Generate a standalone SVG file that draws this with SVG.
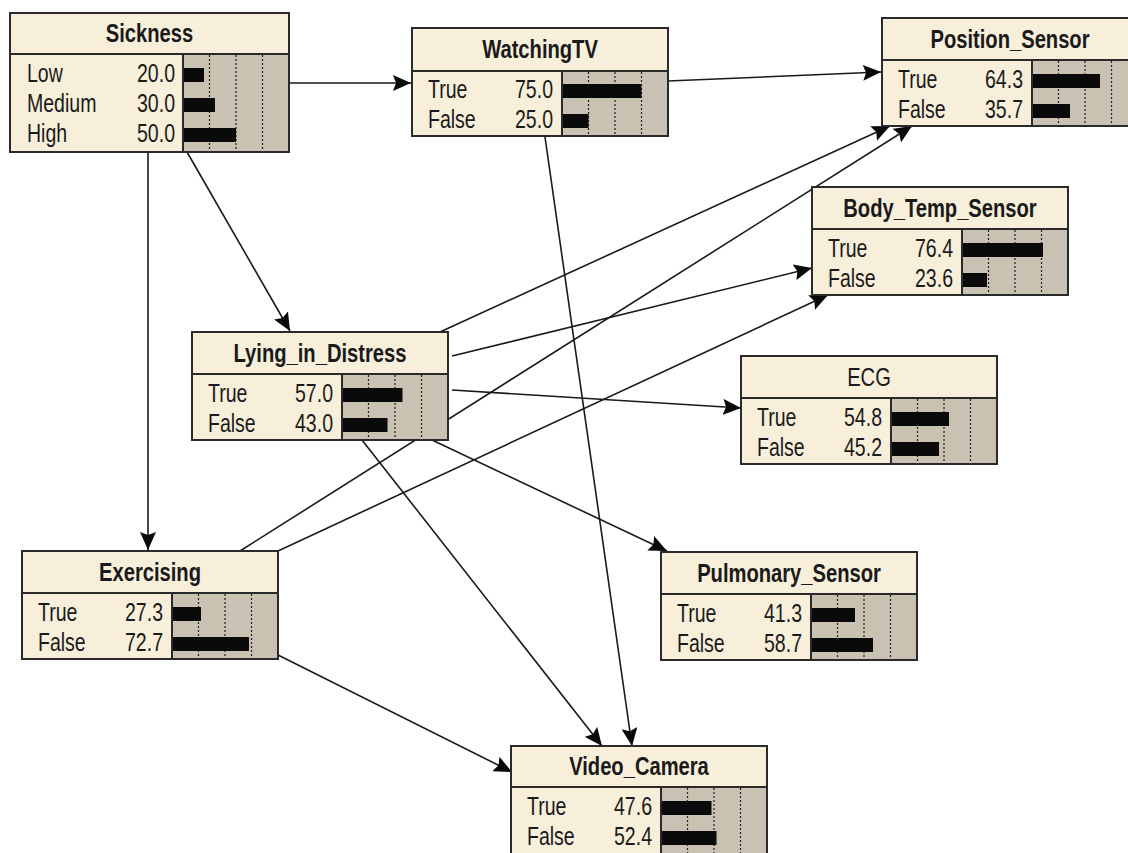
<svg xmlns="http://www.w3.org/2000/svg" width="1128" height="853" viewBox="0 0 1128 853">
<style>
.box{fill:#f7efda;stroke:#2a2a2a;stroke-width:2}
.sep{stroke:#2a2a2a;stroke-width:2}
.bararea{fill:#c9c1b2}
.dot{stroke:#222;stroke-width:1.2;stroke-dasharray:2,2}
.bar{fill:#0a0a0a}
.title{font-family:"Liberation Sans",Arial,sans-serif;font-weight:bold;font-size:21px;fill:#1a1a1a;text-anchor:middle}
.lbl{font-family:"Liberation Sans",Arial,sans-serif;font-size:21px;fill:#1a1a1a}
.val{font-family:"Liberation Sans",Arial,sans-serif;font-size:21px;fill:#1a1a1a;text-anchor:end}
.edge{stroke:#1a1a1a;stroke-width:1.6;fill:none;marker-end:url(#arr)}
</style>
<defs>
<marker id="arr" viewBox="0 0 18 16" refX="18" refY="8" markerWidth="18" markerHeight="16" markerUnits="userSpaceOnUse" orient="auto">
<path d="M0,0 L18,8 L0,16 L3,8 z" fill="#0a0a0a"/>
</marker>
</defs>
<rect width="1128" height="853" fill="#ffffff"/>

<g id="connectors">
<line class="edge" x1="290" y1="83" x2="411" y2="83"/>
<line class="edge" x1="668" y1="81" x2="881" y2="72"/>
<line class="edge" x1="187" y1="152" x2="290" y2="331"/>
<line class="edge" x1="148" y1="152" x2="148" y2="550"/>
<line class="edge" x1="545" y1="137" x2="632" y2="746"/>
<line class="edge" x1="440" y1="332" x2="890" y2="126"/>
<line class="edge" x1="452" y1="356" x2="812" y2="268"/>
<line class="edge" x1="452" y1="390" x2="741" y2="408"/>
<line class="edge" x1="432" y1="440" x2="667" y2="551"/>
<line class="edge" x1="362" y1="440" x2="602" y2="746"/>
<line class="edge" x1="240" y1="551" x2="912" y2="126"/>
<line class="edge" x1="278" y1="551" x2="828" y2="295"/>
<line class="edge" x1="278" y1="655" x2="512" y2="772"/>
</g>

<g id="Sickness" transform="translate(10,13)">
<rect class="box" x="0" y="0" width="279" height="139"/>
<rect class="bararea" x="173" y="41" width="106" height="98"/>
<line class="dot" x1="199.5" y1="42" x2="199.5" y2="138"/>
<line class="dot" x1="226" y1="42" x2="226" y2="138"/>
<line class="dot" x1="252.5" y1="42" x2="252.5" y2="138"/>
<rect class="bar" x="173" y="55" width="21" height="14"/>
<rect class="bar" x="173" y="85" width="32" height="14"/>
<rect class="bar" x="173" y="115" width="53" height="14"/>
<rect x="0" y="0" width="279" height="139" fill="none" stroke="#2a2a2a" stroke-width="2"/>
<line class="sep" x1="0" y1="41" x2="279" y2="41"/>
<line class="sep" x1="173" y1="41" x2="173" y2="139"/>
<text class="title" transform="translate(139.5,29) scale(0.96,1.22)">Sickness</text>
<text class="lbl" transform="translate(17,69) scale(0.93,1.2)">Low</text>
<text class="val" transform="translate(165,69) scale(0.93,1.2)">20.0</text>
<text class="lbl" transform="translate(17,99) scale(0.93,1.2)">Medium</text>
<text class="val" transform="translate(165,99) scale(0.93,1.2)">30.0</text>
<text class="lbl" transform="translate(17,129) scale(0.93,1.2)">High</text>
<text class="val" transform="translate(165,129) scale(0.93,1.2)">50.0</text>
</g>

<g id="WatchingTV" transform="translate(412,28)">
<rect class="box" x="0" y="0" width="256" height="108"/>
<rect class="bararea" x="150" y="43" width="106" height="65"/>
<line class="dot" x1="176.5" y1="44" x2="176.5" y2="107"/>
<line class="dot" x1="203" y1="44" x2="203" y2="107"/>
<line class="dot" x1="229.5" y1="44" x2="229.5" y2="107"/>
<rect class="bar" x="150" y="56" width="79.5" height="14"/>
<rect class="bar" x="150" y="86" width="26.5" height="14"/>
<rect x="0" y="0" width="256" height="108" fill="none" stroke="#2a2a2a" stroke-width="2"/>
<line class="sep" x1="0" y1="43" x2="256" y2="43"/>
<line class="sep" x1="150" y1="43" x2="150" y2="108"/>
<text class="title" transform="translate(128,30) scale(0.96,1.22)">WatchingTV</text>
<text class="lbl" transform="translate(16,70) scale(0.93,1.2)">True</text>
<text class="val" transform="translate(141,70) scale(0.93,1.2)">75.0</text>
<text class="lbl" transform="translate(16,100) scale(0.93,1.2)">False</text>
<text class="val" transform="translate(141,100) scale(0.93,1.2)">25.0</text>
</g>

<g id="Position_Sensor" transform="translate(882,18)">
<rect class="box" x="0" y="0" width="256" height="108"/>
<rect class="bararea" x="150" y="42" width="106" height="66"/>
<line class="dot" x1="176.5" y1="43" x2="176.5" y2="107"/>
<line class="dot" x1="203" y1="43" x2="203" y2="107"/>
<line class="dot" x1="229.5" y1="43" x2="229.5" y2="107"/>
<rect class="bar" x="150" y="56" width="68" height="14"/>
<rect class="bar" x="150" y="86" width="38" height="14"/>
<rect x="0" y="0" width="256" height="108" fill="none" stroke="#2a2a2a" stroke-width="2"/>
<line class="sep" x1="0" y1="42" x2="256" y2="42"/>
<line class="sep" x1="150" y1="42" x2="150" y2="108"/>
<text class="title" transform="translate(128,30) scale(0.96,1.22)">Position_Sensor</text>
<text class="lbl" transform="translate(16,70) scale(0.93,1.2)">True</text>
<text class="val" transform="translate(141,70) scale(0.93,1.2)">64.3</text>
<text class="lbl" transform="translate(16,100) scale(0.93,1.2)">False</text>
<text class="val" transform="translate(141,100) scale(0.93,1.2)">35.7</text>
</g>

<g id="Body_Temp_Sensor" transform="translate(812,187)">
<rect class="box" x="0" y="0" width="256" height="108"/>
<rect class="bararea" x="150" y="42" width="106" height="66"/>
<line class="dot" x1="176.5" y1="43" x2="176.5" y2="107"/>
<line class="dot" x1="203" y1="43" x2="203" y2="107"/>
<line class="dot" x1="229.5" y1="43" x2="229.5" y2="107"/>
<rect class="bar" x="150" y="56" width="81" height="14"/>
<rect class="bar" x="150" y="86" width="25" height="14"/>
<rect x="0" y="0" width="256" height="108" fill="none" stroke="#2a2a2a" stroke-width="2"/>
<line class="sep" x1="0" y1="42" x2="256" y2="42"/>
<line class="sep" x1="150" y1="42" x2="150" y2="108"/>
<text class="title" transform="translate(128,30) scale(0.96,1.22)">Body_Temp_Sensor</text>
<text class="lbl" transform="translate(16,70) scale(0.93,1.2)">True</text>
<text class="val" transform="translate(141,70) scale(0.93,1.2)">76.4</text>
<text class="lbl" transform="translate(16,100) scale(0.93,1.2)">False</text>
<text class="val" transform="translate(141,100) scale(0.93,1.2)">23.6</text>
</g>

<g id="Lying_in_Distress" transform="translate(192,332)">
<rect class="box" x="0" y="0" width="256" height="108"/>
<rect class="bararea" x="150" y="42" width="106" height="66"/>
<line class="dot" x1="176.5" y1="43" x2="176.5" y2="107"/>
<line class="dot" x1="203" y1="43" x2="203" y2="107"/>
<line class="dot" x1="229.5" y1="43" x2="229.5" y2="107"/>
<rect class="bar" x="150" y="56" width="60.5" height="14"/>
<rect class="bar" x="150" y="86" width="45.5" height="14"/>
<rect x="0" y="0" width="256" height="108" fill="none" stroke="#2a2a2a" stroke-width="2"/>
<line class="sep" x1="0" y1="42" x2="256" y2="42"/>
<line class="sep" x1="150" y1="42" x2="150" y2="108"/>
<text class="title" transform="translate(128,30) scale(0.96,1.22)">Lying_in_Distress</text>
<text class="lbl" transform="translate(16,70) scale(0.93,1.2)">True</text>
<text class="val" transform="translate(141,70) scale(0.93,1.2)">57.0</text>
<text class="lbl" transform="translate(16,100) scale(0.93,1.2)">False</text>
<text class="val" transform="translate(141,100) scale(0.93,1.2)">43.0</text>
</g>

<g id="ECG" transform="translate(741,356)">
<rect class="box" x="0" y="0" width="256" height="108"/>
<rect class="bararea" x="150" y="42" width="106" height="66"/>
<line class="dot" x1="176.5" y1="43" x2="176.5" y2="107"/>
<line class="dot" x1="203" y1="43" x2="203" y2="107"/>
<line class="dot" x1="229.5" y1="43" x2="229.5" y2="107"/>
<rect class="bar" x="150" y="56" width="58" height="14"/>
<rect class="bar" x="150" y="86" width="48" height="14"/>
<rect x="0" y="0" width="256" height="108" fill="none" stroke="#2a2a2a" stroke-width="2"/>
<line class="sep" x1="0" y1="42" x2="256" y2="42"/>
<line class="sep" x1="150" y1="42" x2="150" y2="108"/>
<text class="title" style="font-weight:normal" transform="translate(128,30) scale(0.96,1.22)">ECG</text>
<text class="lbl" transform="translate(16,70) scale(0.93,1.2)">True</text>
<text class="val" transform="translate(141,70) scale(0.93,1.2)">54.8</text>
<text class="lbl" transform="translate(16,100) scale(0.93,1.2)">False</text>
<text class="val" transform="translate(141,100) scale(0.93,1.2)">45.2</text>
</g>

<g id="Exercising" transform="translate(22,551)">
<rect class="box" x="0" y="0" width="256" height="108"/>
<rect class="bararea" x="150" y="42" width="106" height="66"/>
<line class="dot" x1="176.5" y1="43" x2="176.5" y2="107"/>
<line class="dot" x1="203" y1="43" x2="203" y2="107"/>
<line class="dot" x1="229.5" y1="43" x2="229.5" y2="107"/>
<rect class="bar" x="150" y="56" width="29" height="14"/>
<rect class="bar" x="150" y="86" width="77" height="14"/>
<rect x="0" y="0" width="256" height="108" fill="none" stroke="#2a2a2a" stroke-width="2"/>
<line class="sep" x1="0" y1="42" x2="256" y2="42"/>
<line class="sep" x1="150" y1="42" x2="150" y2="108"/>
<text class="title" transform="translate(128,30) scale(0.96,1.22)">Exercising</text>
<text class="lbl" transform="translate(16,70) scale(0.93,1.2)">True</text>
<text class="val" transform="translate(141,70) scale(0.93,1.2)">27.3</text>
<text class="lbl" transform="translate(16,100) scale(0.93,1.2)">False</text>
<text class="val" transform="translate(141,100) scale(0.93,1.2)">72.7</text>
</g>

<g id="Pulmonary_Sensor" transform="translate(661,552)">
<rect class="box" x="0" y="0" width="256" height="108"/>
<rect class="bararea" x="150" y="42" width="106" height="66"/>
<line class="dot" x1="176.5" y1="43" x2="176.5" y2="107"/>
<line class="dot" x1="203" y1="43" x2="203" y2="107"/>
<line class="dot" x1="229.5" y1="43" x2="229.5" y2="107"/>
<rect class="bar" x="150" y="56" width="44" height="14"/>
<rect class="bar" x="150" y="86" width="62" height="14"/>
<rect x="0" y="0" width="256" height="108" fill="none" stroke="#2a2a2a" stroke-width="2"/>
<line class="sep" x1="0" y1="42" x2="256" y2="42"/>
<line class="sep" x1="150" y1="42" x2="150" y2="108"/>
<text class="title" transform="translate(128,30) scale(0.96,1.22)">Pulmonary_Sensor</text>
<text class="lbl" transform="translate(16,70) scale(0.93,1.2)">True</text>
<text class="val" transform="translate(141,70) scale(0.93,1.2)">41.3</text>
<text class="lbl" transform="translate(16,100) scale(0.93,1.2)">False</text>
<text class="val" transform="translate(141,100) scale(0.93,1.2)">58.7</text>
</g>

<g id="Video_Camera" transform="translate(511,746)">
<rect class="box" x="0" y="0" width="256" height="108"/>
<rect class="bararea" x="150" y="41" width="106" height="67"/>
<line class="dot" x1="176.5" y1="42" x2="176.5" y2="107"/>
<line class="dot" x1="203" y1="42" x2="203" y2="107"/>
<line class="dot" x1="229.5" y1="42" x2="229.5" y2="107"/>
<rect class="bar" x="150" y="55" width="50.5" height="14"/>
<rect class="bar" x="150" y="85" width="55.5" height="14"/>
<rect x="0" y="0" width="256" height="108" fill="none" stroke="#2a2a2a" stroke-width="2"/>
<line class="sep" x1="0" y1="41" x2="256" y2="41"/>
<line class="sep" x1="150" y1="41" x2="150" y2="108"/>
<text class="title" transform="translate(128,29) scale(0.96,1.22)">Video_Camera</text>
<text class="lbl" transform="translate(16,69) scale(0.93,1.2)">True</text>
<text class="val" transform="translate(141,69) scale(0.93,1.2)">47.6</text>
<text class="lbl" transform="translate(16,99) scale(0.93,1.2)">False</text>
<text class="val" transform="translate(141,99) scale(0.93,1.2)">52.4</text>
</g>
</svg>
